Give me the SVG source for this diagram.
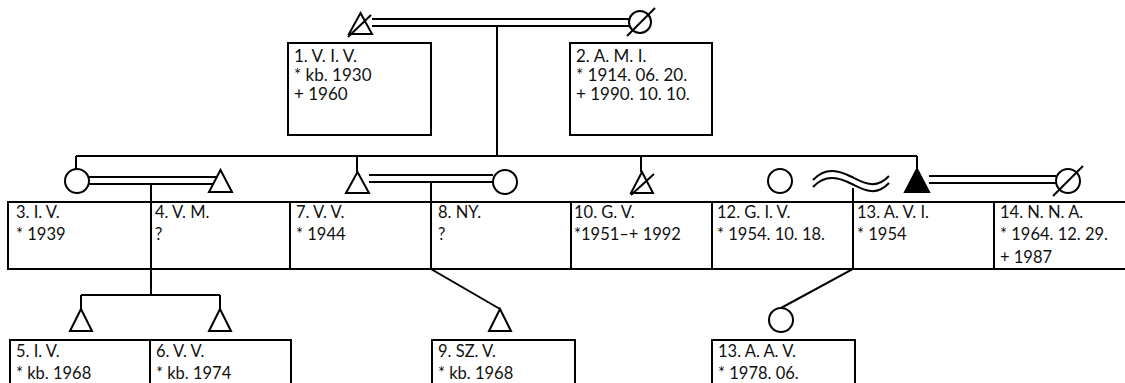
<svg xmlns="http://www.w3.org/2000/svg" width="1125" height="383" viewBox="0 0 1125 383">
<style>
.s{fill:none;stroke:#000;stroke-width:2}
.f{fill:#000;stroke:#000;stroke-width:2}
.b{fill:#fff;stroke:#000;stroke-width:2}
text{font-family:Lato,"Open Sans","Liberation Sans",sans-serif;fill:#111}
.t1{font-size:17px}
.t2{font-size:16.5px}
</style>
<rect width="1125" height="383" fill="#fff"/>
<g id="connectors" class="s">
<path d="M372 19H629M372 26H629"/>
<path d="M497 26V156M76 156H917M76 156V169M357 156V172M641 156V172M917 156V169"/>
<path d="M89 177H217M89 184H213M151 184V295M81 295H220M81 295V309M220 295V309"/>
<path d="M369 175H493M369 182H493M431 182V269L500 309"/>
<path d="M929 176H1056M929 183H1056"/>
<path d="M813 180C826 166 840 171 852 177S876 190 889 176M813 187C826 173 840 178 852 184S876 197 889 183"/>
<path d="M853 188V269L781 308"/>
</g>
<g id="p1">
<path class="s" d="M360.5 13L372 34H349Z M348 37L371 15"/>
<rect class="b" x="288" y="43" width="143" height="92"/>
<text class="t1" x="294" y="62">1. V. I. V.</text>
<text class="t1" x="294" y="81">* kb. 1930</text>
<text class="t1" x="294" y="100">+ 1960</text>
</g>
<g id="p2">
<circle class="s" cx="640" cy="22" r="11"/>
<path class="s" d="M627 36L655 8"/>
<rect class="b" x="570" y="43" width="142" height="92"/>
<text class="t1" x="576" y="62">2. A. M. I.</text>
<text class="t1" x="576" y="81">* 1914. 06. 20.</text>
<text class="t1" x="576" y="100">+ 1990. 10. 10.</text>
</g>
<g id="p3">
<circle class="s" cx="77" cy="181" r="12"/>
<rect class="s" x="8" y="202" width="143" height="67"/>
<text class="t2" x="16" y="218">3. I. V.</text>
<text class="t2" x="16" y="240">* 1939</text>
</g>
<g id="p4">
<path class="s" d="M220.5 170L232 192H209Z"/>
<rect class="s" x="151" y="202" width="139" height="67"/>
<text class="t2" x="155" y="218">4. V. M.</text>
<text class="t2" x="155" y="240">?</text>
</g>
<g id="p7">
<path class="s" d="M357.5 172L369 193H346Z"/>
<rect class="s" x="290" y="202" width="141" height="67"/>
<text class="t2" x="296" y="218">7. V. V.</text>
<text class="t2" x="296" y="240">* 1944</text>
</g>
<g id="p8">
<circle class="s" cx="505" cy="182" r="12"/>
<rect class="s" x="431" y="202" width="140" height="67"/>
<text class="t2" x="438" y="218">8. NY.</text>
<text class="t2" x="438" y="240">?</text>
</g>
<g id="p10">
<path class="s" d="M642 172L653 193H631Z M631 195L654 174"/>
<rect class="s" x="571" y="202" width="141" height="67"/>
<text class="t2" x="574" y="218">10. G. V.</text>
<text class="t2" x="574" y="240">*1951–+ 1992</text>
</g>
<g id="p12">
<circle class="s" cx="780" cy="181" r="12"/>
<rect class="s" x="712" y="202" width="141" height="67"/>
<text class="t2" x="717" y="218">12. G. I. V.</text>
<text class="t2" x="717" y="240">* 1954. 10. 18.</text>
</g>
<g id="p13">
<path class="f" d="M917 169L929 192H905Z"/>
<rect class="s" x="853" y="202" width="141" height="67"/>
<text class="t2" x="857" y="218">13. A. V. I.</text>
<text class="t2" x="857" y="240">* 1954</text>
</g>
<g id="p14">
<circle class="s" cx="1068" cy="181" r="12"/>
<path class="s" d="M1053 196L1083 166"/>
<rect class="s" x="994" y="202" width="140" height="67"/>
<text class="t2" x="1000" y="218">14. N. N. A.</text>
<text class="t2" x="1000" y="240">* 1964. 12. 29.</text>
<text class="t2" x="1000" y="263">+ 1987</text>
</g>
<g id="p5">
<path class="s" d="M81 309L92 331H70Z"/>
<rect class="s" x="10" y="340" width="140" height="60"/>
<text class="t2" x="16" y="357">5. I. V.</text>
<text class="t2" x="16" y="379">* kb. 1968</text>
</g>
<g id="p6">
<path class="s" d="M220 309L231 331H209Z"/>
<rect class="s" x="150" y="340" width="141" height="60"/>
<text class="t2" x="156" y="357">6. V. V.</text>
<text class="t2" x="156" y="379">* kb. 1974</text>
</g>
<g id="p9">
<path class="s" d="M500 309L511 331H489Z"/>
<rect class="s" x="432" y="340" width="143" height="60"/>
<text class="t2" x="438" y="357">9. SZ. V.</text>
<text class="t2" x="438" y="379">* kb. 1968</text>
</g>
<g id="p13b">
<circle class="s" cx="781" cy="320" r="12"/>
<rect class="s" x="712" y="340" width="143" height="60"/>
<text class="t2" x="718" y="357">13. A. A. V.</text>
<text class="t2" x="718" y="379">* 1978. 06.</text>
</g>
</svg>
